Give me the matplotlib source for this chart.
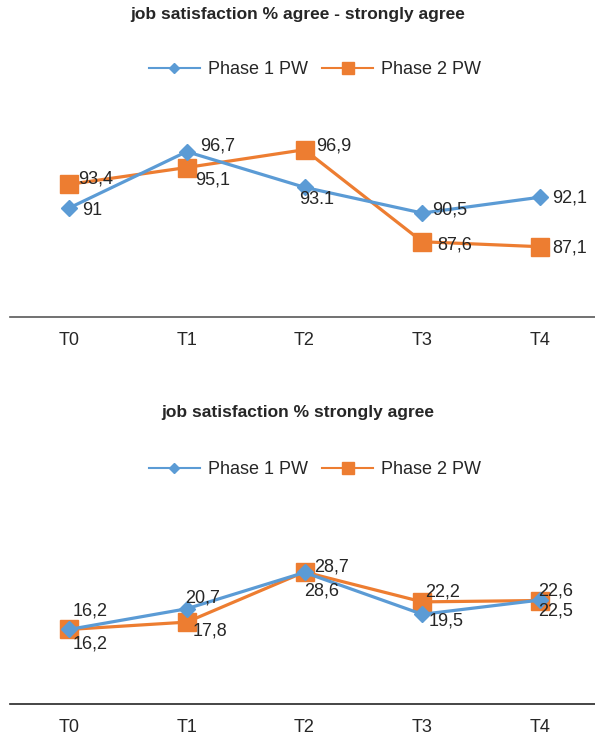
import matplotlib.pyplot as plt
from matplotlib.lines import Line2D

plt.rcParams['font.family'] = ['Liberation Sans', 'DejaVu Sans']

periods = ['T0', 'T1', 'T2', 'T3', 'T4']

# % agree - strongly agree
agree_p1 = [91, 96.7, 93.1, 90.5, 92.1]
agree_p2 = [93.4, 95.1, 96.9, 87.6, 87.1]
agree_p1_txt = ['91', '96,7', '93.1', '90,5', '92,1']
agree_p2_txt = ['93,4', '95,1', '96,9', '87,6', '87,1']

# % strongly agree
strong_p1 = [16.2, 20.7, 28.6, 19.5, 22.6]
strong_p2 = [16.2, 17.8, 28.7, 22.2, 22.5]
strong_p1_txt = ['16,2', '20,7', '28,6', '19,5', '22,6']
strong_p2_txt = ['16,2', '17,8', '28,7', '22,2', '22,5']

BLUE = '#5B9BD5'
ORANGE = '#ED7D31'
TXT = '#262626'

# label offsets in pixels (dx to left edge of text, dy to text centre)
off_agree_p1 = [(13, -2), (13, 6), (-5, -12), (10, 3), (12, -1)]
off_agree_p2 = [(9, 5), (8, -12), (12, 4), (15, -3), (12, -1)]
off_strong_p1 = [(4, -15), (-2, 11), (0, -19), (6, -7), (-2, 9)]
off_strong_p2 = [(4, 18), (6, -9), (10, 5), (3, 10), (-2, -11)]

fig = plt.figure(figsize=(5.95, 7.4), dpi=100)


def draw_panel(rect, title, title_y, legend_y, p1, p2, t1, t2, o1, o2, ylim, spine_col):
    ax = fig.add_axes(rect)
    x = range(len(periods))
    ax.plot(x, p1, color=BLUE, lw=2.3, marker='D', ms=8, zorder=3)
    ax.plot(x, p2, color=ORANGE, lw=2.3, marker='s', ms=12.5, zorder=2)
    for xi, yi, s, o in zip(x, p1, t1, o1):
        ax.annotate(s, (xi, yi), xytext=o, textcoords='offset pixels',
                    ha='left', va='center', fontsize=13, color=TXT, zorder=4)
    for xi, yi, s, o in zip(x, p2, t2, o2):
        ax.annotate(s, (xi, yi), xytext=o, textcoords='offset pixels',
                    ha='left', va='center', fontsize=13, color=TXT, zorder=4)
    ax.set_xlim(-0.5, len(periods) - 0.5)
    ax.set_ylim(*ylim)
    ax.set_xticks(list(x))
    ax.set_xticklabels(periods, fontsize=13, color=TXT)
    ax.set_yticks([])
    ax.tick_params(axis='x', length=0, pad=11)
    for side in ['top', 'left', 'right']:
        ax.spines[side].set_visible(False)
    ax.spines['bottom'].set_color(spine_col)
    ax.spines['bottom'].set_linewidth(1.2)
    fig.text(0.5, title_y, title, ha='center', va='center',
             fontsize=12.5, fontweight='bold', color=TXT)
    handles = [
        Line2D([], [], color=BLUE, lw=1.5, marker='D', ms=5.5),
        Line2D([], [], color=ORANGE, lw=1.5, marker='s', ms=8),
    ]
    ax.legend(handles, ['Phase 1 PW', 'Phase 2 PW'], loc='center',
              bbox_to_anchor=(315 / 595, legend_y), bbox_transform=fig.transFigure,
              ncol=2, frameon=False, fontsize=13, handlelength=2.8,
              handletextpad=0.45, columnspacing=0.8, labelcolor=TXT)
    return ax


draw_panel([10 / 595, 1 - 317 / 740, 589 / 595, 198 / 740],
           'job satisfaction % agree - strongly agree', 1 - 15 / 740, 1 - 70 / 740,
           agree_p1, agree_p2, agree_p1_txt, agree_p2_txt,
           off_agree_p1, off_agree_p2, (80, 100), '#595959')

draw_panel([10 / 595, 1 - 704 / 740, 589 / 595, 184 / 740],
           'job satisfaction % strongly agree', 1 - 413 / 740, 1 - 470 / 740,
           strong_p1, strong_p2, strong_p1_txt, strong_p2_txt,
           off_strong_p1, off_strong_p2, (0, 40), '#262626')

fig.savefig('out.png', dpi=100)
